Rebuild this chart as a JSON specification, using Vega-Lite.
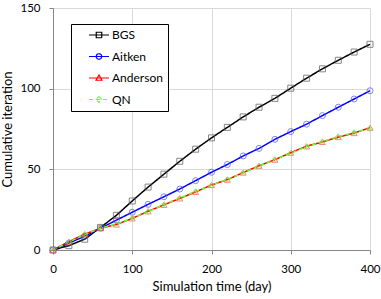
{
  "$schema": "https://vega.github.io/schema/vega-lite/v6.json",
  "autosize": "none",
  "width": 317,
  "height": 242,
  "padding": {"left": 53, "top": 8, "right": 11, "bottom": 49},
  "background": "white",
  "config": {
    "view": {"stroke": null},
    "font": "Lato",
    "axis": {
      "labelFont": "Lato", "titleFont": "Lato",
      "labelFontSize": 11.5, "titleFontSize": 13, "titleFontWeight": "normal",
      "labelColor": "#000000", "titleColor": "#000000",
      "domainColor": "#868686", "tickColor": "#868686", "tickSize": 4,
      "gridColor": "#d9d9d9", "gridWidth": 1, "labelFlush": false
    }
  },
  "datasets": {
    "runs": [
      {"t": 0, "method": "BGS", "it": 0}, {"t": 20, "method": "BGS", "it": 2.7}, {"t": 40, "method": "BGS", "it": 6.7}, {"t": 60, "method": "BGS", "it": 14}, {"t": 80, "method": "BGS", "it": 21.5}, {"t": 100, "method": "BGS", "it": 30.4}, {"t": 120, "method": "BGS", "it": 39}, {"t": 140, "method": "BGS", "it": 47}, {"t": 160, "method": "BGS", "it": 55}, {"t": 180, "method": "BGS", "it": 62.5}, {"t": 200, "method": "BGS", "it": 69.5}, {"t": 220, "method": "BGS", "it": 76}, {"t": 240, "method": "BGS", "it": 82.5}, {"t": 260, "method": "BGS", "it": 88.5}, {"t": 280, "method": "BGS", "it": 94}, {"t": 300, "method": "BGS", "it": 100.3}, {"t": 320, "method": "BGS", "it": 106.5}, {"t": 340, "method": "BGS", "it": 112.3}, {"t": 360, "method": "BGS", "it": 117.6}, {"t": 380, "method": "BGS", "it": 122.7}, {"t": 400, "method": "BGS", "it": 127.5},
      {"t": 0, "method": "Aitken", "it": 0}, {"t": 20, "method": "Aitken", "it": 4.3}, {"t": 40, "method": "Aitken", "it": 8.5}, {"t": 60, "method": "Aitken", "it": 13.5}, {"t": 80, "method": "Aitken", "it": 18.5}, {"t": 100, "method": "Aitken", "it": 23.4}, {"t": 120, "method": "Aitken", "it": 28.3}, {"t": 140, "method": "Aitken", "it": 33}, {"t": 160, "method": "Aitken", "it": 37.8}, {"t": 180, "method": "Aitken", "it": 43}, {"t": 200, "method": "Aitken", "it": 48.2}, {"t": 220, "method": "Aitken", "it": 53}, {"t": 240, "method": "Aitken", "it": 58.3}, {"t": 260, "method": "Aitken", "it": 63}, {"t": 280, "method": "Aitken", "it": 68.6}, {"t": 300, "method": "Aitken", "it": 73.4}, {"t": 320, "method": "Aitken", "it": 78}, {"t": 340, "method": "Aitken", "it": 83.3}, {"t": 360, "method": "Aitken", "it": 88.5}, {"t": 380, "method": "Aitken", "it": 93.6}, {"t": 400, "method": "Aitken", "it": 98.7},
      {"t": 0, "method": "Anderson", "it": 0}, {"t": 20, "method": "Anderson", "it": 5.2}, {"t": 40, "method": "Anderson", "it": 9.8}, {"t": 60, "method": "Anderson", "it": 13.5}, {"t": 80, "method": "Anderson", "it": 15.8}, {"t": 100, "method": "Anderson", "it": 19.6}, {"t": 120, "method": "Anderson", "it": 24}, {"t": 140, "method": "Anderson", "it": 28}, {"t": 160, "method": "Anderson", "it": 32}, {"t": 180, "method": "Anderson", "it": 36}, {"t": 200, "method": "Anderson", "it": 40.3}, {"t": 220, "method": "Anderson", "it": 43.6}, {"t": 240, "method": "Anderson", "it": 48}, {"t": 260, "method": "Anderson", "it": 52.2}, {"t": 280, "method": "Anderson", "it": 56}, {"t": 300, "method": "Anderson", "it": 60.3}, {"t": 320, "method": "Anderson", "it": 64.3}, {"t": 340, "method": "Anderson", "it": 67}, {"t": 360, "method": "Anderson", "it": 70}, {"t": 380, "method": "Anderson", "it": 72.5}, {"t": 400, "method": "Anderson", "it": 75.8},
      {"t": 0, "method": "QN", "it": 0}, {"t": 20, "method": "QN", "it": 5}, {"t": 40, "method": "QN", "it": 9.6}, {"t": 60, "method": "QN", "it": 13.5}, {"t": 80, "method": "QN", "it": 16}, {"t": 100, "method": "QN", "it": 19.8}, {"t": 120, "method": "QN", "it": 23.8}, {"t": 140, "method": "QN", "it": 28.2}, {"t": 160, "method": "QN", "it": 32.2}, {"t": 180, "method": "QN", "it": 36.3}, {"t": 200, "method": "QN", "it": 40.1}, {"t": 220, "method": "QN", "it": 43.8}, {"t": 240, "method": "QN", "it": 47.8}, {"t": 260, "method": "QN", "it": 52}, {"t": 280, "method": "QN", "it": 56.2}, {"t": 300, "method": "QN", "it": 60}, {"t": 320, "method": "QN", "it": 64}, {"t": 340, "method": "QN", "it": 67.2}, {"t": 360, "method": "QN", "it": 70.3}, {"t": 380, "method": "QN", "it": 72.8}, {"t": 400, "method": "QN", "it": 75.2}
    ]
  },
  "data": {"name": "runs"},
  "encoding": {
    "x": {
      "field": "t", "type": "quantitative",
      "scale": {"domain": [0, 400], "nice": false},
      "axis": {"values": [0, 100, 200, 300, 400], "title": "Simulation time (day)", "labelPadding": 9, "titlePadding": 6}
    },
    "y": {
      "field": "it", "type": "quantitative",
      "scale": {"domain": [0, 150], "nice": false},
      "axis": {"values": [0, 50, 100, 150], "title": "Cumulative iteration", "labelPadding": 9, "titlePadding": 5}
    }
  },
  "layer": [
    {
      "mark": {"type": "line", "strokeWidth": 1.5},
      "encoding": {
        "color": {
          "field": "method", "type": "nominal",
          "scale": {"domain": ["BGS", "Aitken", "Anderson", "QN"], "range": ["#000000", "#0000ff", "#ff0000", "#66ff33"]},
          "legend": {
            "title": null, "orient": "none", "legendX": 18, "legendY": 16,
            "padding": 5, "fillColor": "white", "strokeColor": "#000000",
            "symbolSize": 100, "symbolStrokeWidth": 1.2, "symbolFillColor": "transparent",
            "labelFont": "Lato", "labelFontSize": 12, "labelColor": "#000000",
            "labelOffset": 24, "rowPadding": 9.5,
            "labelExpr": "datum.label + '\u00a0\u00a0\u00a0\u00a0\u00a0\u00a0\u00a0'",
            "encode": {
              "symbols": {
                "update": {
                  "shape": {"signal": "datum.value === 'BGS' ? 'M1.4,0H5.4M2.85,-0.55H3.95V0.55H2.85Z' : datum.value === 'Aitken' ? 'M1.4,0H5.4M2.85,0A0.55,0.55 0 1,0 3.95,0A0.55,0.55 0 1,0 2.85,0' : datum.value === 'Anderson' ? 'M1.4,0H5.4M3.4,-0.6L4.0,0.45H2.8Z' : 'M1.4,0H5.4M3.4,-0.6L4.0,0L3.4,0.6L2.8,0Z'"},
                  "strokeDash": {"signal": "datum.value === 'QN' ? [3, 2] : [1, 0]"},
                  "fill": {"value": "transparent"},
                  "fillOpacity": {"value": 0}
                }
              }
            }
          }
        },
        "strokeDash": {
          "field": "method", "type": "nominal",
          "scale": {"domain": ["BGS", "Aitken", "Anderson", "QN"], "range": [[1, 0], [1, 0], [1, 0], [4, 3]]},
          "legend": null
        },
        "order": {"field": "t", "type": "quantitative"}
      }
    },
    {
      "transform": [{"filter": "datum.method === 'BGS'"}],
      "mark": {"type": "point", "filled": false, "strokeWidth": 1, "size": 36, "shape": "square", "stroke": "#555555"}
    },
    {
      "transform": [{"filter": "datum.method === 'Aitken'"}],
      "mark": {"type": "point", "filled": false, "strokeWidth": 1, "size": 36, "shape": "circle", "stroke": "#4d4dff"}
    },
    {
      "transform": [{"filter": "datum.method === 'Anderson'"}],
      "mark": {"type": "point", "filled": false, "strokeWidth": 1, "size": 36, "shape": "triangle-up", "stroke": "#ff5050"}
    },
    {
      "transform": [{"filter": "datum.method === 'QN'"}],
      "mark": {"type": "point", "filled": false, "strokeWidth": 1, "size": 30, "shape": "diamond", "stroke": "#66ff33"}
    }
  ]
}
